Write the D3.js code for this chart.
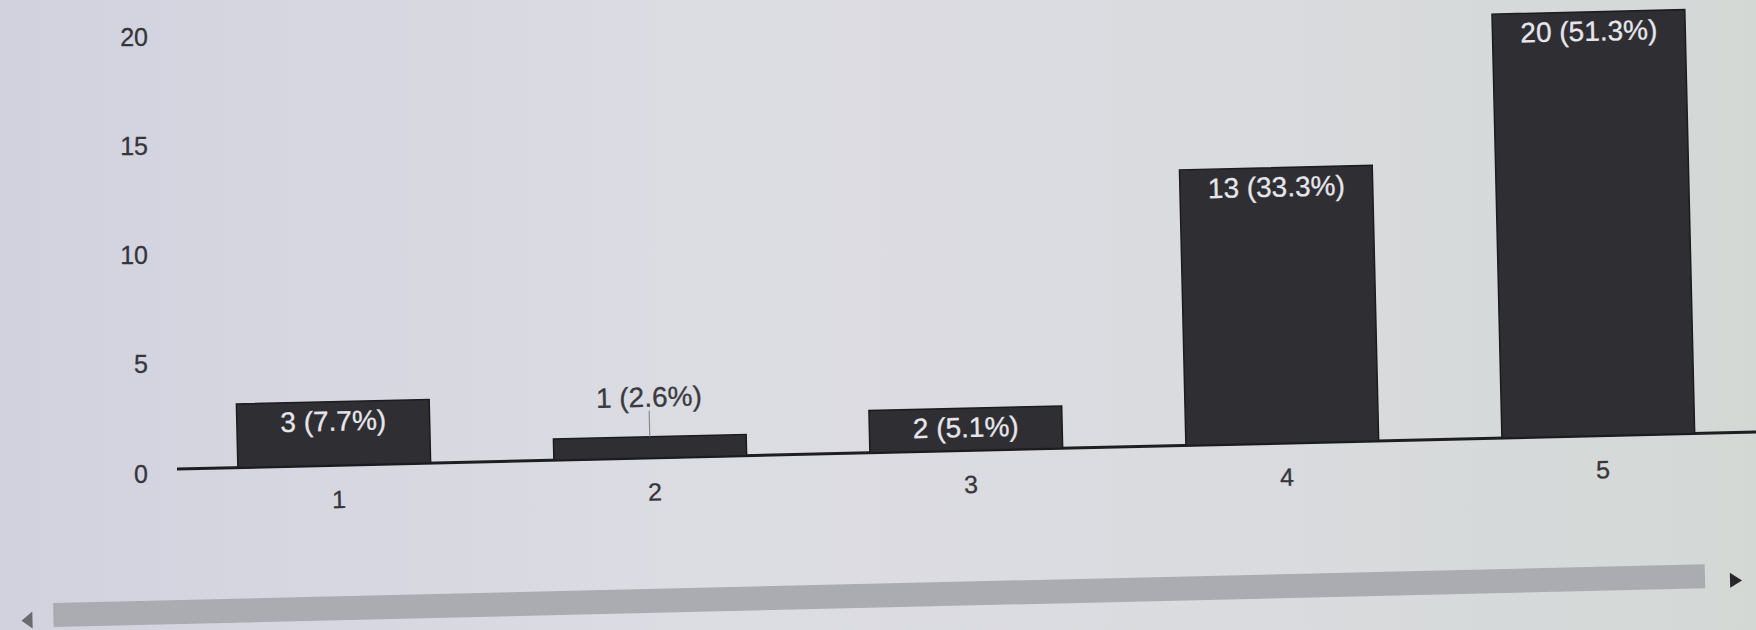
<!DOCTYPE html>
<html>
<head>
<meta charset="utf-8">
<script src="https://cdn.jsdelivr.net/npm/d3@7"></script>
<style>
  html, body { margin: 0; padding: 0; background: #d8d8e0; }
  svg { display: block; }
</style>
</head>
<body>
<div id="chart"></div>
<script>
// data
var categories = ["1", "2", "3", "4", "5"];
var counts = [3, 1, 2, 13, 20];
var percents = [7.7, 2.6, 5.1, 33.3, 51.3];
var yTicks = [0, 5, 10, 15, 20];

var W = 1756, H = 630;
var font = "'Liberation Sans', Arial, sans-serif";

var svg = d3.select("#chart")
  .append("svg")
    .attr("width", W)
    .attr("height", H);

// background, the photo is lighter in the middle
var defs = svg.append("defs");
var grad = defs.append("linearGradient").attr("id", "bg");
grad.append("stop").attr("offset", "0%").attr("stop-color", "#d2d2df");
grad.append("stop").attr("offset", "40%").attr("stop-color", "#dcdce3");
grad.append("stop").attr("offset", "70%").attr("stop-color", "#dadbdf");
grad.append("stop").attr("offset", "100%").attr("stop-color", "#d3d8d5");
svg.append("rect").attr("width", W).attr("height", H).attr("fill", "url(#bg)");

var data = categories.map(function(c, i) {
  return {cat: c, n: counts[i], pct: percents[i]};
});

// y axis labels stay upright (perspective of the photo)
var yAx = d3.scaleLinear().domain([0, 20]).range([474, 37]);
var yAxis = svg.append("g")
  .attr("transform", "translate(148,0)")
  .call(d3.axisLeft(yAx).tickValues(yTicks).tickSize(0).tickPadding(0));
yAxis.select(".domain").remove();
yAxis.selectAll("text")
  .attr("font-family", font)
  .attr("font-size", "25px")
  .attr("fill", "#35353a")
  .attr("stroke", "#35353a")
  .attr("stroke-width", 0.3);

// the rest of the chart is tilted like the photo
var g = svg.append("g")
  .attr("transform", "rotate(-1.34,177,469)");

var x = d3.scaleBand()
  .domain(categories)
  .range([181, 1752])
  .paddingInner(0.39)
  .paddingOuter(0.18);

var y = d3.scaleLinear()
  .domain([0, 20])
  .range([469, 469 - 20 * 21.2]);

// baseline
g.append("line")
  .attr("x1", 177).attr("x2", 1800)
  .attr("y1", y(0)).attr("y2", y(0))
  .attr("stroke", "#1e1e22")
  .attr("stroke-width", 3);

g.selectAll("rect.bar")
  .data(data)
  .enter()
  .append("rect")
    .attr("class", "bar")
    .attr("x", function(d) { return x(d.cat); })
    .attr("y", function(d) { return y(d.n); })
    .attr("width", x.bandwidth())
    .attr("height", function(d) { return y(0) - y(d.n); })
    .attr("fill", "#2f2f33")
    .attr("stroke", "#1c1c1f")
    .attr("stroke-width", 1.5);

// value labels
g.selectAll("text.val")
  .data(data)
  .enter()
  .append("text")
    .attr("class", "val")
    .attr("x", function(d) { return x(d.cat) + x.bandwidth() / 2; })
    .attr("y", function(d) { return d.n >= 2 ? y(d.n) + 29 : y(d.n) - 30; })
    .attr("text-anchor", "middle")
    .attr("font-family", font)
    .attr("font-size", "28px")
    .attr("fill", function(d) { return d.n >= 2 ? "#e6e6ec" : "#3a3a3e"; })
    .attr("stroke", function(d) { return d.n >= 2 ? "#e6e6ec" : "#3a3a3e"; })
    .attr("stroke-width", 0.3)
    .text(function(d) { return d.n + " (" + d.pct + "%)"; });

// leader line for the label that sits outside its bar
g.selectAll("line.lead")
  .data(data.filter(function(d) { return d.n < 2; }))
  .enter()
  .append("line")
    .attr("class", "lead")
    .attr("x1", function(d) { return x(d.cat) + x.bandwidth() / 2; })
    .attr("x2", function(d) { return x(d.cat) + x.bandwidth() / 2; })
    .attr("y1", function(d) { return y(d.n) - 26; })
    .attr("y2", function(d) { return y(d.n); })
    .attr("stroke", "#8a8a90")
    .attr("stroke-width", 1.2);

// category axis
var xAxis = g.append("g")
  .attr("transform", "translate(4," + y(0) + ")")
  .call(d3.axisBottom(x).tickSize(0).tickPadding(25));
xAxis.select(".domain").remove();
xAxis.selectAll("text")
  .attr("font-family", font)
  .attr("font-size", "25px")
  .attr("fill", "#35353a")
  .attr("stroke", "#35353a")
  .attr("stroke-width", 0.3);

// scrollbar under the chart
g.append("rect")
  .attr("x", 50).attr("y", 600)
  .attr("width", 1652).attr("height", 24)
  .attr("fill", "#abacb2");

g.append("path")
  .attr("d", "M18,617 L29,608 L29,625 Z")
  .attr("fill", "#6a6a70");
g.append("path")
  .attr("d", "M1727,609 L1739,617 L1727,624 Z")
  .attr("fill", "#26262a");
</script>
</body>
</html>
